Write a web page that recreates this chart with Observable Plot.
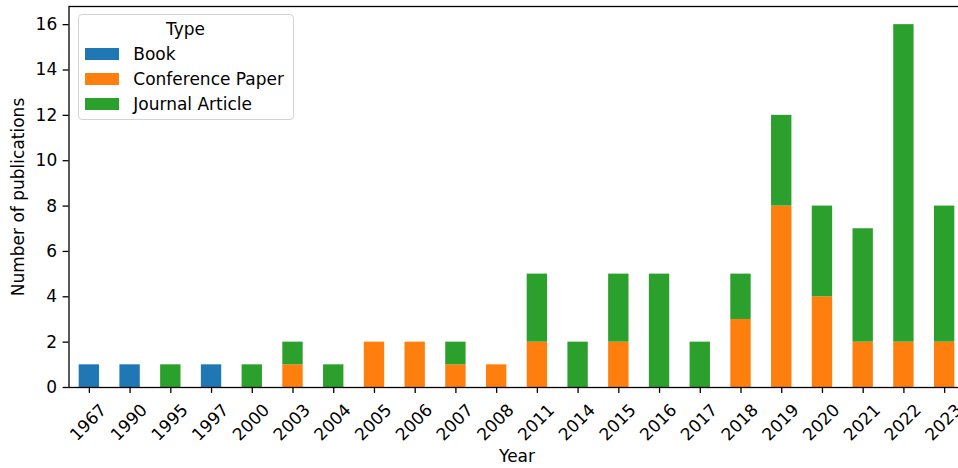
<!DOCTYPE html>
<html><head><meta charset="utf-8">
<script src="https://cdn.jsdelivr.net/npm/d3@7"></script>
<script src="https://cdn.jsdelivr.net/npm/@observablehq/plot@0.6"></script>
<style>
html,body{margin:0;padding:0;overflow:hidden;background:#fff;}
#wrap{position:relative;width:958px;height:468px;overflow:hidden;font-family:"DejaVu Sans",sans-serif;}
#chart{position:absolute;left:0;top:0;width:970px;}
#chart svg{max-width:none !important;}
.legend{position:absolute;left:77.5px;top:14px;width:216px;height:106px;box-sizing:border-box;border:1px solid #d3d3d3;border-radius:4px;background:rgba(255,255,255,0.8);font-size:17px;color:#000;}
.legend .title{position:absolute;left:0;right:0;top:4px;text-align:center;line-height:20px;}
.legend .row{position:absolute;left:6.5px;height:12px;}
.legend .sw{position:absolute;left:0;top:0;width:34px;height:11.9px;}
.legend .lbl{position:absolute;left:48.3px;top:-4px;line-height:20px;white-space:nowrap;}
</style></head>
<body>
<div id="wrap"><div id="chart"></div><div class="legend" id="legend"></div></div>
<script>
const years = ["1967","1990","1995","1997","2000","2003","2004","2005","2006","2007","2008","2011","2014","2015","2016","2017","2018","2019","2020","2021","2022","2023"];
const seriesNames = ["Book","Conference Paper","Journal Article"];
const book       = [1,1,0,1,0,0,0,0,0,0,0,0,0,0,0,0,0,0,0,0,0,0];
const conference = [0,0,0,0,0,1,0,2,2,1,1,2,0,2,0,0,3,8,4,2,2,2];
const journal    = [0,0,1,0,1,1,1,0,0,1,0,3,2,3,5,2,2,4,4,5,14,6];
const colors = ["#1f77b4","#ff7f0e","#2ca02c"];
const yTicks = [0,2,4,6,8,10,12,14,16];

const seriesValues = [book, conference, journal];
const data = [];
seriesNames.forEach((s, i) => {
  years.forEach((y, j) => {
    if (seriesValues[i][j] > 0) data.push({year: y, type: s, count: seriesValues[i][j]});
  });
});

const FS = 17;
const chart = Plot.plot({
  width: 970, height: 468,
  marginLeft: 68.5, marginRight: 5.5, marginTop: 6, marginBottom: 81,
  style: {fontFamily: "DejaVu Sans, sans-serif", fontSize: FS + "px", color: "#000", background: "transparent", maxWidth: "none"},
  x: {type: "band", domain: years, paddingInner: 0.5, paddingOuter: 0.25, round: false},
  y: {domain: [0, 16.8], round: false},
  color: {domain: seriesNames, range: colors},
  marks: [
    Plot.barY(data, {x: "year", y: "count", fill: "type", order: seriesNames}),
    Plot.frame({stroke: "#000", strokeWidth: 1.3}),
    Plot.axisY({ticks: yTicks, tickSize: 5.9, tickPadding: 5.9, label: null, strokeWidth: 1.3, fontSize: FS}),
    Plot.axisX({tickSize: 5.9, tickFormat: () => "", label: null, strokeWidth: 1.3}),
    Plot.text(years, {x: d => d, frameAnchor: "bottom", dy: 35, dx: -1, rotate: -45, textAnchor: "middle", lineAnchor: "middle", fontSize: FS}),
    Plot.text(["Year"], {frameAnchor: "bottom", dy: 69.5, textAnchor: "middle", lineAnchor: "middle", fontSize: FS}),
    Plot.text(["Number of publications"], {frameAnchor: "left", dx: -50.2, rotate: -90, textAnchor: "middle", lineAnchor: "middle", fontSize: FS})
  ]
});
document.getElementById("chart").appendChild(chart);

const leg = document.getElementById("legend");
const t = document.createElement("div"); t.className = "title"; t.textContent = "Type"; leg.appendChild(t);
seriesNames.forEach((s, i) => {
  const r = document.createElement("div"); r.className = "row"; r.style.top = (32.7 + 25 * i) + "px";
  const sw = document.createElement("div"); sw.className = "sw"; sw.style.background = colors[i];
  const l = document.createElement("div"); l.className = "lbl"; l.textContent = s;
  r.appendChild(sw); r.appendChild(l); leg.appendChild(r);
});
</script>
</body></html>
